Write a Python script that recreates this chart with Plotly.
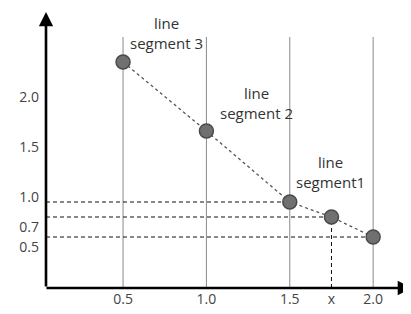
import plotly.graph_objects as go

# ---- data ----
point_x = [0.5, 1.0, 1.5, 1.75, 2.0]
point_y = [2.35, 1.66, 0.95, 0.80, 0.60]

x_tick_vals = [0.5, 1.0, 1.5, 1.75, 2.0]
x_tick_text = ["0.5", "1.0", "1.5", "x", "2.0"]
y_tick_vals = [2.0, 1.5, 1.0, 0.7, 0.5]
y_tick_text = ["2.0", "1.5", "1.0", "0.7", "0.5"]

grid_x = [0.5, 1.0, 1.5, 2.0]
guide_idx = [2, 3, 4]          # points with horizontal dashed guides
vertical_guide_idx = 3          # point with vertical dashed guide

labels = ["line<br>segment 3", "line<br>segment 2", "line<br>segment1"]
label_x = [0.758, 1.303, 1.747]
label_y_paper = [1.016, 0.737, 0.462]

X_RANGE = [0.038, 2.161]
Y_RANGE = [0.09, 2.60]

FONT = "Open Sans, Noto Sans, sans-serif"

fig = go.Figure()

# connecting dashed line + markers
fig.add_trace(go.Scatter(
    x=point_x, y=point_y, mode="lines+markers",
    line=dict(color="#555555", width=1.3, dash="3px,3px"),
    marker=dict(size=14, color="#707070", line=dict(color="#4a4a4a", width=1.5)),
    hoverinfo="skip", showlegend=False, cliponaxis=False,
))

shapes = []
for gx in grid_x:
    shapes.append(dict(type="line", xref="x", yref="paper", x0=gx, x1=gx, y0=0, y1=1,
                       line=dict(color="#8a8a8a", width=1), layer="below"))
for i in guide_idx:
    shapes.append(dict(type="line", xref="x", yref="y", x0=X_RANGE[0], x1=point_x[i],
                       y0=point_y[i], y1=point_y[i],
                       line=dict(color="#111111", width=1, dash="4px,3px"), layer="below"))
shapes.append(dict(type="line", xref="x", yref="y",
                   x0=point_x[vertical_guide_idx], x1=point_x[vertical_guide_idx],
                   y0=Y_RANGE[0], y1=point_y[vertical_guide_idx],
                   line=dict(color="#111111", width=1, dash="4px,3px"), layer="below"))

annotations = []
for t, lx, ly in zip(labels, label_x, label_y_paper):
    annotations.append(dict(x=lx, y=ly, xref="x", yref="paper", text=t, showarrow=False,
                            font=dict(family=FONT, size=15, color="#333333"),
                            align="center", yanchor="middle"))

# axes with arrows
annotations.append(dict(xref="paper", yref="paper", x=0, y=1.0 + 25 / 251, ax=0, ay=276,
                        axref="pixel", ayref="pixel", text="", showarrow=True,
                        arrowhead=2, arrowsize=1.1, arrowwidth=2.6, arrowcolor="#000000",
                        standoff=0, startstandoff=0))
annotations.append(dict(xref="paper", yref="paper", x=1.0 + 12 / 354, y=0, ax=-367, ay=0,
                        axref="pixel", ayref="pixel", text="", showarrow=True,
                        arrowhead=2, arrowsize=1.1, arrowwidth=2.6, arrowcolor="#000000",
                        standoff=0, startstandoff=0))

fig.update_layout(
    width=411, height=314,
    margin=dict(l=38, r=19, t=29, b=34),
    paper_bgcolor="white", plot_bgcolor="white",
    shapes=shapes, annotations=annotations,
    font=dict(family=FONT, size=14, color="#444444"),
    xaxis=dict(range=X_RANGE, tickvals=x_tick_vals, ticktext=x_tick_text,
               showgrid=False, zeroline=False, showline=False, ticks="",
               automargin=False, ticklabelstandoff=1,
               tickfont=dict(size=14, color="#444444")),
    yaxis=dict(range=Y_RANGE, tickvals=y_tick_vals, ticktext=y_tick_text,
               showgrid=False, zeroline=False, showline=False, ticks="",
               automargin=False, ticklabelstandoff=6,
               tickfont=dict(size=14, color="#444444")),
)

fig.write_html("out.html")
